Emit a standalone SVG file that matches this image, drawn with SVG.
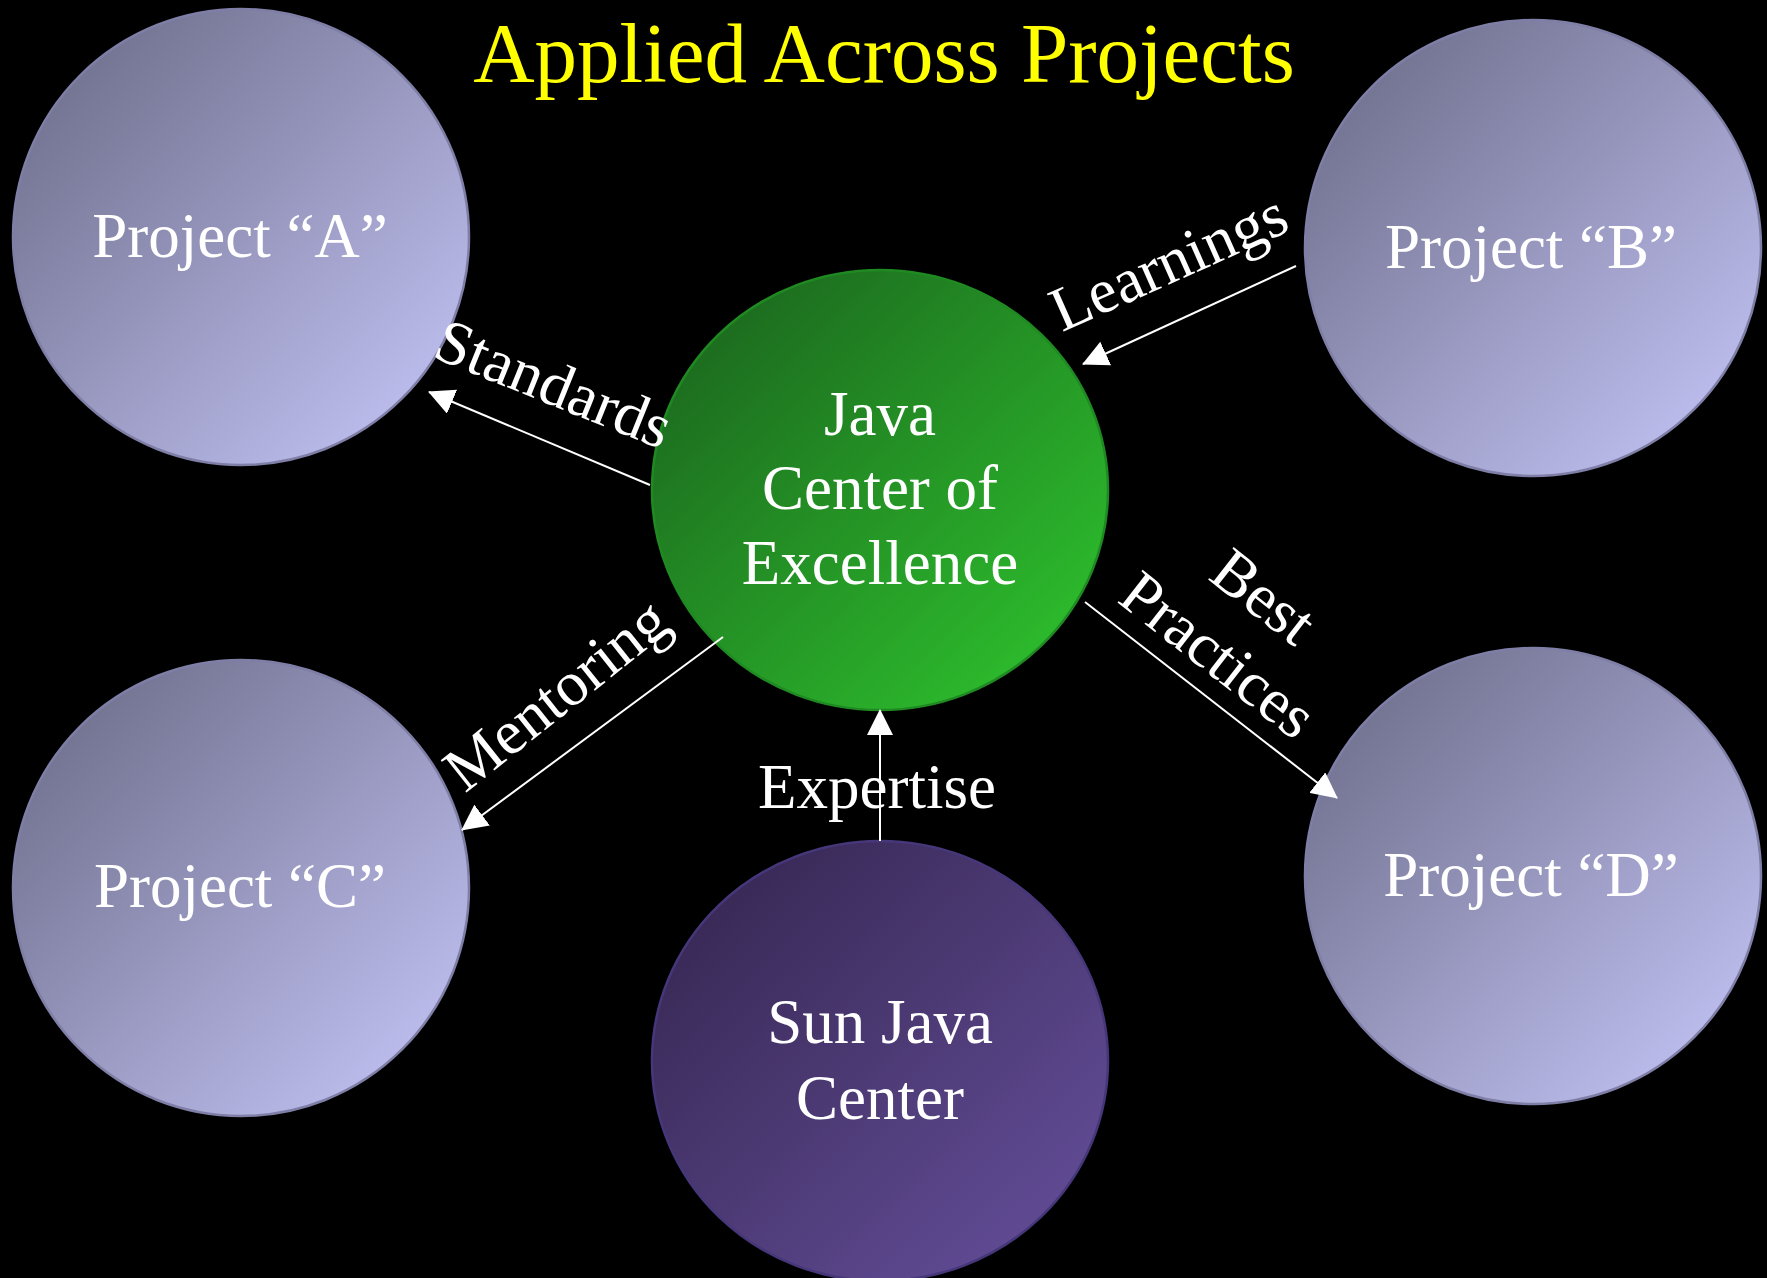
<svg xmlns="http://www.w3.org/2000/svg" width="1767" height="1278" viewBox="0 0 1767 1278">
<defs>
<linearGradient id="gProj" x1="0.15" y1="0.15" x2="0.85" y2="0.85">
<stop offset="0" stop-color="#757594"/>
<stop offset="1" stop-color="#babaea"/>
</linearGradient>
<linearGradient id="gGreen" x1="0.15" y1="0.15" x2="0.85" y2="0.85">
<stop offset="0" stop-color="#1d6e1f"/>
<stop offset="1" stop-color="#2cb82c"/>
</linearGradient>
<linearGradient id="gPurple" x1="0.15" y1="0.15" x2="0.85" y2="0.85">
<stop offset="0" stop-color="#3a2a58"/>
<stop offset="1" stop-color="#5f4a92"/>
</linearGradient>
<marker id="arrow" viewBox="0 0 26 26" refX="25" refY="13" markerWidth="26" markerHeight="26" markerUnits="userSpaceOnUse" orient="auto">
<path d="M0,0 L26,13 L0,26 z" fill="#ffffff"/>
</marker>
</defs>
<style>
.proj { fill: url(#gProj); stroke: #7e7ea6; stroke-width: 2.5; }
.coe { fill: url(#gGreen); stroke: #1f8a22; stroke-width: 2.5; }
.sun { fill: url(#gPurple); stroke: #46377a; stroke-width: 2.5; }
.t { font-family: "Liberation Serif", "Times New Roman", serif; font-size: 63px; fill: #ffffff; text-anchor: middle; }
.title { font-family: "Liberation Serif", "Times New Roman", serif; font-size: 85px; fill: #ffff00; text-anchor: middle; }
.conn { stroke: #ffffff; stroke-width: 2; fill: none; marker-end: url(#arrow); }
</style>
<rect x="0" y="0" width="1767" height="1278" fill="#000000"/>
<text class="title" x="884" y="82">Applied Across Projects</text>

<g id="projectA">
<ellipse class="proj" cx="241" cy="237" rx="228" ry="228"/>
<text class="t" x="240" y="257">Project “A”</text>
</g>
<g id="projectB">
<ellipse class="proj" cx="1533" cy="248" rx="228" ry="228"/>
<text class="t" x="1531" y="268">Project “B”</text>
</g>
<g id="projectC">
<ellipse class="proj" cx="241" cy="888" rx="228" ry="228"/>
<text class="t" x="240" y="907">Project “C”</text>
</g>
<g id="projectD">
<ellipse class="proj" cx="1533" cy="876" rx="228" ry="228"/>
<text class="t" x="1531" y="896">Project “D”</text>
</g>
<g id="javaCoE">
<ellipse class="coe" cx="880" cy="490" rx="228" ry="220"/>
<text class="t" x="880" y="435">Java</text>
<text class="t" x="880" y="509">Center of</text>
<text class="t" x="880" y="584">Excellence</text>
</g>
<g id="sunJavaCenter">
<ellipse class="sun" cx="880" cy="1061" rx="228" ry="220"/>
<text class="t" x="880" y="1043">Sun Java</text>
<text class="t" x="880" y="1119">Center</text>
</g>

<g id="connectors">
<line class="conn" x1="650" y1="485" x2="429" y2="392"/>
<line class="conn" x1="1296" y1="266" x2="1083" y2="364"/>
<line class="conn" x1="1085" y1="602" x2="1337" y2="798"/>
<line class="conn" x1="723" y1="637" x2="462" y2="830"/>
<line class="conn" x1="880" y1="841" x2="880" y2="710"/>
</g>

<g id="labels">
<text class="t" transform="translate(546,403) rotate(22)" x="0" y="0">Standards</text>
<text class="t" transform="translate(1177,281) rotate(-24)" x="0" y="0">Learnings</text>
<g transform="translate(1251,613) rotate(38)">
<text class="t" x="0" y="0">Best</text>
<text class="t" x="0" y="74">Practices</text>
</g>
<text class="t" transform="translate(569,711) rotate(-38.5)" x="0" y="0">Mentoring</text>
<text class="t" x="877" y="808">Expertise</text>
</g>
</svg>
